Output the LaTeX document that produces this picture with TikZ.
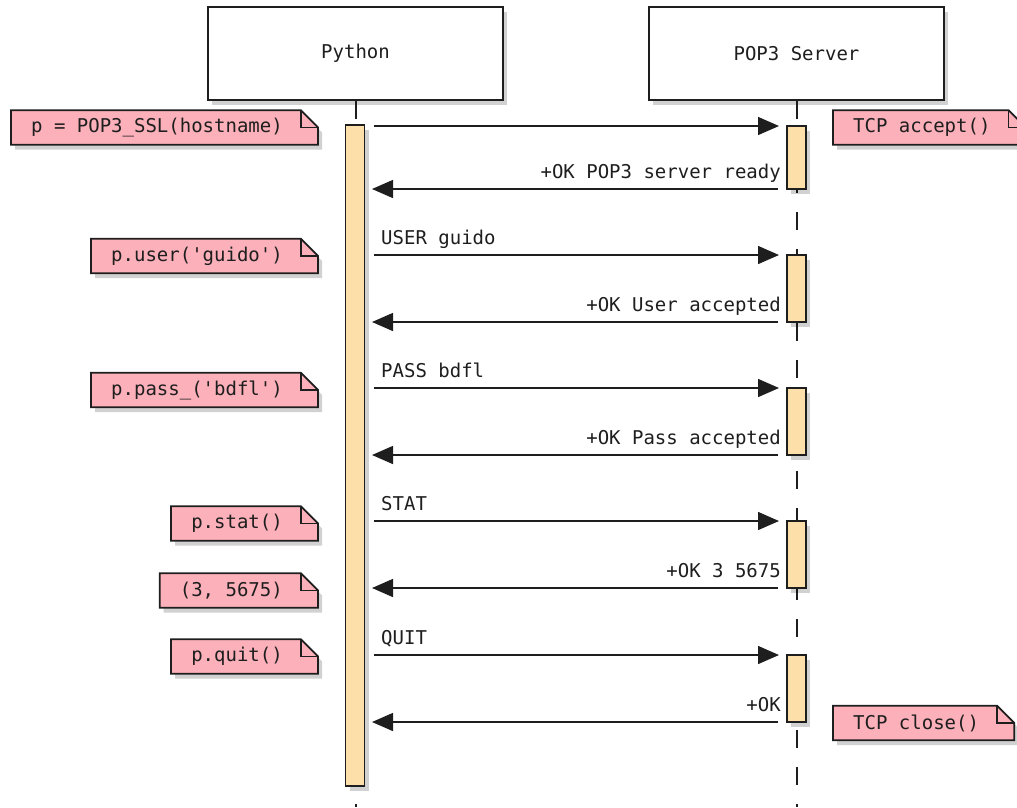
\documentclass[tikz,border=0pt]{standalone}
\usepackage{fontspec}
\setmonofont{DejaVu Sans Mono}
\usetikzlibrary{arrows.meta,shadows,backgrounds}
\definecolor{notepink}{HTML}{FBB0BA}
\definecolor{barfill}{HTML}{FDE0A9}
\definecolor{ink}{HTML}{1E1E1E}
\tikzset{
  every node/.style={font=\ttfamily\fontsize{19}{22}\selectfont, text=ink},
  softshadow/.style={drop shadow={shadow xshift=4pt, shadow yshift=-5pt, opacity=.18, fill=black}},
  participant/.style={draw=ink, line width=1.8pt, fill=white, minimum width=295pt, minimum height=93pt, inner sep=0pt, softshadow},
  actbar/.style={draw=ink, line width=1.8pt, fill=barfill, softshadow},
  msg/.style={line width=1.5pt, draw=ink, -{Triangle[length=21pt,width=18pt]}},
  lifeline/.style={line width=2pt, draw=ink, dash pattern=on 18pt off 19pt},
  notetext/.style={inner xsep=0pt, inner ysep=0pt, minimum height=34pt},
  notebg/.style={fill=notepink, draw=ink, line width=1.8pt, line join=miter, softshadow},
  fold/.style={draw=ink, line width=1.5pt},
  msglabel/.style={inner sep=0pt}
}
\newcommand\notefold[1]{%
  \begin{scope}[on background layer]
    \path[notebg] (#1.north west) -- ([xshift=-17pt]#1.north east) -- ([yshift=-17pt]#1.north east) -- (#1.south east) -- (#1.south west) -- cycle;
    \draw[fold] ([xshift=-17pt]#1.north east) -- ([xshift=-17pt,yshift=-17pt]#1.north east) -- ([yshift=-17pt]#1.north east);
  \end{scope}}
\newcommand\notetxt[1]{\kern20pt #1\kern35pt}
\begin{document}
\begin{tikzpicture}[x=1pt, y=-1pt]
\useasboundingbox (0,0) rectangle (1017,807);
\clip (0,0) rectangle (1017,807);

% participants
\node[participant] (py) at (355.5,53.5) {Python};
\node[participant] (srv) at (796.5,53.5) {POP3 Server};

% lifelines
\coordinate (pyEnd) at (355.5,807);
\coordinate (srvEnd) at (796.5,807);
\draw[lifeline] (py.south) -- (pyEnd);
\draw[lifeline] (srv.south) -- (srvEnd);

% activation bars
\path[actbar] (345.5,125) rectangle (364.5,786);
\foreach \t/\b in {126/189, 255/322, 388/455, 521/588, 655/722}{
  \path[actbar] (787,\t) rectangle (806,\b);
}

% messages
\foreach \i/\y in {1/126, 2/255, 3/388, 4/521, 5/655}{
  \coordinate (pf\i) at (374,\y);
  \coordinate (sf\i) at (779,\y);
  \draw[msg] (pf\i) -- (sf\i);
}
\foreach \i/\y in {1/189, 2/322, 3/455, 4/588, 5/722}{
  \coordinate (sr\i) at (778,\y);
  \coordinate (pr\i) at (372,\y);
  \draw[msg] (sr\i) -- (pr\i);
}

% message labels
\node[msglabel, anchor=base east] (l1) at (781,178) {+OK POP3 server ready};
\node[msglabel, anchor=base west] (l2) at (381,244) {USER guido};
\node[msglabel, anchor=base east] (l3) at (781,311) {+OK User accepted};
\node[msglabel, anchor=base west] (l4) at (381,377) {PASS bdfl};
\node[msglabel, anchor=base east] (l5) at (781,444) {+OK Pass accepted};
\node[msglabel, anchor=base west] (l6) at (381,510) {STAT};
\node[msglabel, anchor=base east] (l7) at (781,577) {+OK 3 5675};
\node[msglabel, anchor=base west] (l8) at (381,644) {QUIT};
\node[msglabel, anchor=base east] (l9) at (781,711) {+OK};

% notes
\node[notetext, anchor=east] (n1) at (318,127.5) {\notetxt{p = POP3\_SSL(hostname)}};
\notefold{n1}
\node[notetext, anchor=west] (n2) at (833,127.5) {\notetxt{TCP accept()}};
\notefold{n2}
\node[notetext, anchor=east] (n3) at (318,256) {\notetxt{p.user('guido')}};
\notefold{n3}
\node[notetext, anchor=east] (n4) at (318,390) {\notetxt{p.pass\_('bdfl')}};
\notefold{n4}
\node[notetext, anchor=east] (n5) at (318,523.5) {\notetxt{p.stat()}};
\notefold{n5}
\node[notetext, anchor=east] (n6) at (318,590.5) {\notetxt{(3, 5675)}};
\notefold{n6}
\node[notetext, anchor=east] (n7) at (318,656.5) {\notetxt{p.quit()}};
\notefold{n7}
\node[notetext, anchor=west] (n8) at (833,723) {\notetxt{TCP close()}};
\notefold{n8}
\end{tikzpicture}
\end{document}
